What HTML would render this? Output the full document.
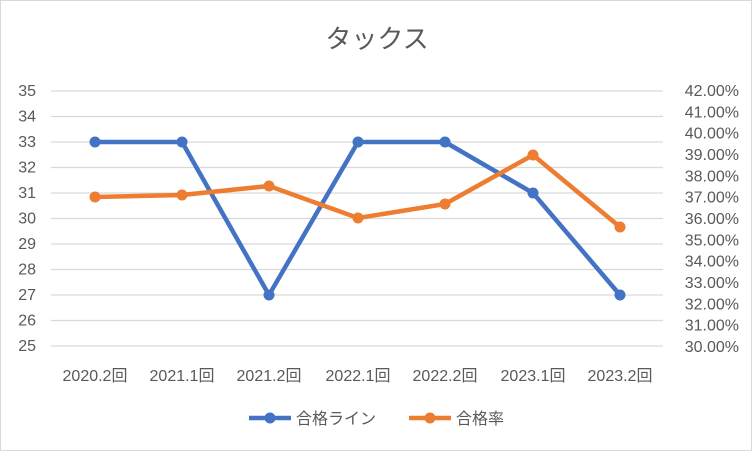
<!DOCTYPE html>
<html><head><meta charset="utf-8"><style>
body{margin:0;background:#fff}
svg{display:block;font-family:"Liberation Sans","Noto Sans CJK JP",sans-serif}
</style></head><body>
<svg width="755" height="458" viewBox="0 0 755 458">
<rect x="0.5" y="0.5" width="751" height="450" fill="#fff" stroke="#d9d9d9"/>
<text x="377" y="48" font-size="26" fill="#595959" text-anchor="middle">タックス</text>
<g stroke="#d9d9d9" stroke-width="1.3">
<line x1="51" x2="663" y1="91" y2="91"/><line x1="51" x2="663" y1="116.5" y2="116.5"/>
<line x1="51" x2="663" y1="142" y2="142"/><line x1="51" x2="663" y1="167.5" y2="167.5"/>
<line x1="51" x2="663" y1="193" y2="193"/><line x1="51" x2="663" y1="218.5" y2="218.5"/>
<line x1="51" x2="663" y1="244" y2="244"/><line x1="51" x2="663" y1="269.5" y2="269.5"/>
<line x1="51" x2="663" y1="295" y2="295"/><line x1="51" x2="663" y1="320.5" y2="320.5"/>
<line x1="51" x2="663" y1="346" y2="346"/>
</g>
<g font-size="16" fill="#595959" text-anchor="end">
<text x="36" y="96">35</text><text x="36" y="121.5">34</text><text x="36" y="147">33</text>
<text x="36" y="172.5">32</text><text x="36" y="198">31</text><text x="36" y="223.5">30</text>
<text x="36" y="249">29</text><text x="36" y="274.5">28</text><text x="36" y="300">27</text>
<text x="36" y="325.5">26</text><text x="36" y="351">25</text>
</g>
<g font-size="16" fill="#595959" text-anchor="end">
<text x="739" y="96">42.00%</text><text x="739" y="117.3">41.00%</text><text x="739" y="138.7">40.00%</text>
<text x="739" y="160">39.00%</text><text x="739" y="181.3">38.00%</text><text x="739" y="202.7">37.00%</text>
<text x="739" y="224">36.00%</text><text x="739" y="245.3">35.00%</text><text x="739" y="266.7">34.00%</text>
<text x="739" y="288">33.00%</text><text x="739" y="309.3">32.00%</text><text x="739" y="330.7">31.00%</text>
<text x="739" y="352">30.00%</text>
</g>
<g font-size="16" fill="#595959" text-anchor="middle">
<text x="95" y="381">2020.2回</text><text x="182" y="381">2021.1回</text><text x="269" y="381">2021.2回</text>
<text x="358" y="381">2022.1回</text><text x="445" y="381">2022.2回</text><text x="533" y="381">2023.1回</text>
<text x="620" y="381">2023.2回</text>
</g>
<polyline points="95,142 182,142 269,295 358,142 445,142 533,193 620,295" fill="none" stroke="#4472c4" stroke-width="4.5" stroke-linejoin="round"/>
<g fill="#4472c4"><circle cx="95" cy="142" r="5.5"/><circle cx="182" cy="142" r="5.5"/><circle cx="269" cy="295" r="5.5"/><circle cx="358" cy="142" r="5.5"/><circle cx="445" cy="142" r="5.5"/><circle cx="533" cy="193" r="5.5"/><circle cx="620" cy="295" r="5.5"/></g>
<polyline points="95,197 182,195 269,186 358,218 445,204 533,155 620,227" fill="none" stroke="#ed7d31" stroke-width="4.5" stroke-linejoin="round"/>
<g fill="#ed7d31"><circle cx="95" cy="197" r="5.5"/><circle cx="182" cy="195" r="5.5"/><circle cx="269" cy="186" r="5.5"/><circle cx="358" cy="218" r="5.5"/><circle cx="445" cy="204" r="5.5"/><circle cx="533" cy="155" r="5.5"/><circle cx="620" cy="227" r="5.5"/></g>
<line x1="249" x2="291" y1="418" y2="418" stroke="#4472c4" stroke-width="4.5"/><circle cx="270" cy="418" r="5.5" fill="#4472c4"/>
<text x="296" y="424" font-size="16" fill="#595959">合格ライン</text>
<line x1="409" x2="451" y1="418" y2="418" stroke="#ed7d31" stroke-width="4.5"/><circle cx="430" cy="418" r="5.5" fill="#ed7d31"/>
<text x="456" y="424" font-size="16" fill="#595959">合格率</text>
</svg>
</body></html>
